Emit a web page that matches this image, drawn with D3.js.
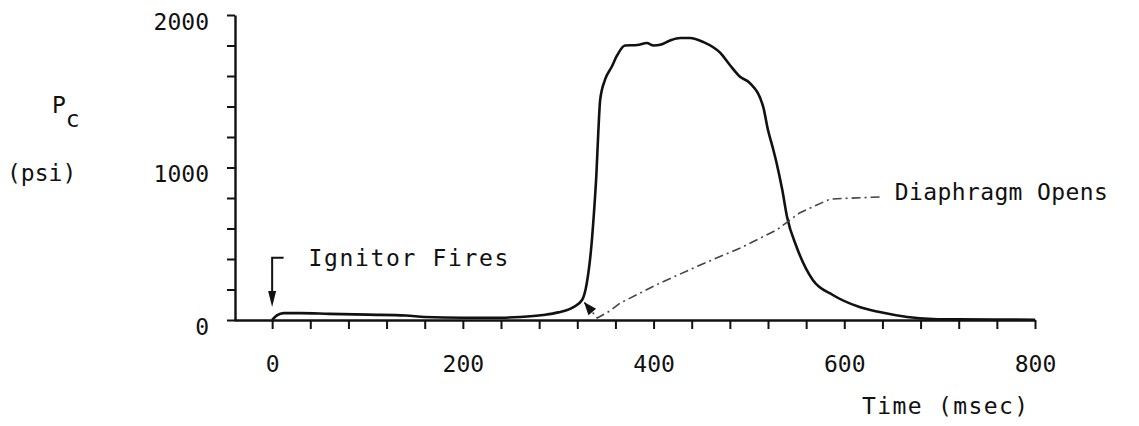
<!DOCTYPE html>
<html>
<head>
<meta charset="utf-8">
<script src="https://cdn.jsdelivr.net/npm/d3@7"></script>
<style>
  html, body { margin: 0; padding: 0; background: #fff; }
  svg { display: block; }
  text { font-family: "DejaVu Sans Mono", "Liberation Mono", monospace; fill: #111; }
</style>
</head>
<body>
<svg id="chart" width="1139" height="426"></svg>
<script>
// ---- data ----
const timeMs   = [0, 5, 12, 30, 60, 100, 140, 160, 200, 240, 260, 284, 300, 316, 325, 330, 335, 338, 340, 342, 344, 349, 356, 362, 370, 383, 393, 400, 407, 418, 428, 438, 452, 470, 480, 491, 501, 515, 520, 525, 529, 535, 540, 550, 567, 588, 616, 637, 666, 693, 720, 760, 800];
const pressure = [0, 30, 45, 45, 40, 35, 30, 20, 15, 15, 20, 33, 50, 85, 131, 243, 500, 750, 950, 1226, 1443, 1574, 1659, 1738, 1800, 1803, 1816, 1800, 1805, 1835, 1849, 1849, 1823, 1751, 1672, 1593, 1554, 1397, 1246, 1130, 1030, 852, 675, 479, 262, 164, 85, 52, 20, 7, 4, 3, 2];

const xTicks = [0, 40, 80, 120, 160, 200, 240, 280, 320, 360, 400, 440, 480, 520, 560, 600, 640, 680, 720, 760, 800];
const xTickLabels = [0, 200, 400, 600, 800];
const yTicks = [0, 200, 400, 600, 800, 1000, 1200, 1400, 1600, 1800, 2000];
const yTickLabels = [0, 1000, 2000];

// annotations (data units)
const ignitorTime = 0;
const ignitorArrowTop = 408;    // psi
const ignitorArrowTip = 85;     // psi
const ignitorHookEnd = 12;      // ms
const ignitorLabel = { t: 38, v: 354, text: "Ignitor Fires" };
const diaphragmLeaderT = [637, 585, 553, 529, 491, 449, 407, 365, 354, 341];
const diaphragmLeaderV = [807, 793, 702, 590, 472, 361, 243, 111, 59, 13];
const diaphragmTip = { t: 327, v: 118 };
const diaphragmLabel = { t: 653, v: 787, text: "Diaphragm Opens" };

// ---- scales ----
const x = d3.scaleLinear().domain([-40, 800]).range([234, 1035]);
const y = d3.scaleLinear().domain([0, 2000]).range([320, 15]);

const svg = d3.select("#chart");
const FS = 23;

// ---- axes ----
const xAxis = d3.axisBottom(x)
  .tickValues(xTicks)
  .tickSize(9)
  .tickSizeOuter(0)
  .tickPadding(27)
  .tickFormat(d => xTickLabels.includes(d) ? d : "");
const gx = svg.append("g").attr("transform", `translate(0,${y(0)})`).call(xAxis);

const yAxis = d3.axisLeft(y)
  .tickValues(yTicks)
  .tickSize(8)
  .tickSizeOuter(0)
  .tickPadding(18)
  .tickFormat(d => yTickLabels.includes(d) ? d : "");
const gy = svg.append("g").attr("transform", `translate(${x(-40) + 1},0)`).call(yAxis);

[gx, gy].forEach(g => {
  g.select(".domain").attr("stroke", "#111").attr("stroke-width", 2.4);
  g.selectAll(".tick line").attr("stroke", "#111").attr("stroke-width", 2);
  g.selectAll(".tick text")
    .attr("font-family", "DejaVu Sans Mono")
    .attr("font-size", FS)
    .attr("fill", "#111");
});
gy.selectAll(".tick text").attr("dy", "0.62em");
gx.selectAll(".tick text").attr("dy", "0.71em");

// ---- main curve ----
const pts = timeMs.map((t, i) => [t, pressure[i]]);
const line = d3.line().x(d => x(d[0])).y(d => y(d[1])).curve(d3.curveMonotoneX);
svg.append("path")
  .datum(pts)
  .attr("d", line)
  .attr("fill", "none")
  .attr("stroke", "#111")
  .attr("stroke-width", 2.6)
  .attr("stroke-linejoin", "round");

// ---- axis titles ----
const pc = svg.append("text").attr("x", 52).attr("y", 113).attr("font-size", FS);
pc.append("tspan").text("P");
pc.append("tspan").attr("dy", 14).attr("font-size", FS).text("c");
svg.append("text").attr("x", 7).attr("y", 181).attr("font-size", FS).text("(psi)");
svg.append("text").attr("x", 862).attr("y", 414).attr("font-size", FS)
  .attr("textLength", 166).attr("lengthAdjust", "spacing").text("Time (msec)");

// ---- Ignitor annotation ----
const ig = svg.append("g");
ig.append("path")
  .attr("d", `M${x(ignitorHookEnd)},${y(ignitorArrowTop)} L${x(ignitorTime)},${y(ignitorArrowTop)} L${x(ignitorTime)},${y(ignitorArrowTip) - 12}`)
  .attr("fill", "none").attr("stroke", "#111").attr("stroke-width", 2);
ig.append("path")
  .attr("d", `M${x(ignitorTime) - 4},${y(ignitorArrowTip) - 16} L${x(ignitorTime) + 4},${y(ignitorArrowTip) - 16} L${x(ignitorTime)},${y(ignitorArrowTip)} Z`)
  .attr("fill", "#111");
svg.append("text").attr("x", x(ignitorLabel.t)).attr("y", y(ignitorLabel.v))
  .attr("font-size", FS).attr("textLength", 200).attr("lengthAdjust", "spacing")
  .text(ignitorLabel.text);

// ---- Diaphragm annotation ----
const leaderPts = diaphragmLeaderT.map((t, i) => [x(t), y(diaphragmLeaderV[i])]);
leaderPts.push([x(diaphragmTip.t), y(diaphragmTip.v)]);
svg.append("path")
  .attr("d", d3.line().curve(d3.curveLinear)(leaderPts))
  .attr("fill", "none").attr("stroke", "#444").attr("stroke-width", 1.6)
  .attr("stroke-dasharray", "9,4,2,4");
// arrowhead at tip, pointing up-left
{
  const [tx, ty] = [x(diaphragmTip.t), y(diaphragmTip.v)];
  const [px, py] = leaderPts[leaderPts.length - 2];
  const ang = Math.atan2(ty - py, tx - px);
  const L = 13, W = 5;
  const bx = tx - L * Math.cos(ang), by = ty - L * Math.sin(ang);
  const nx = -Math.sin(ang) * W, ny = Math.cos(ang) * W;
  svg.append("path")
    .attr("d", `M${tx},${ty} L${bx + nx},${by + ny} L${bx - nx},${by - ny} Z`)
    .attr("fill", "#111");
}
svg.append("text").attr("x", x(diaphragmLabel.t)).attr("y", y(diaphragmLabel.v))
  .attr("font-size", FS).attr("textLength", 213).attr("lengthAdjust", "spacing")
  .text(diaphragmLabel.text);
</script>
</body>
</html>
